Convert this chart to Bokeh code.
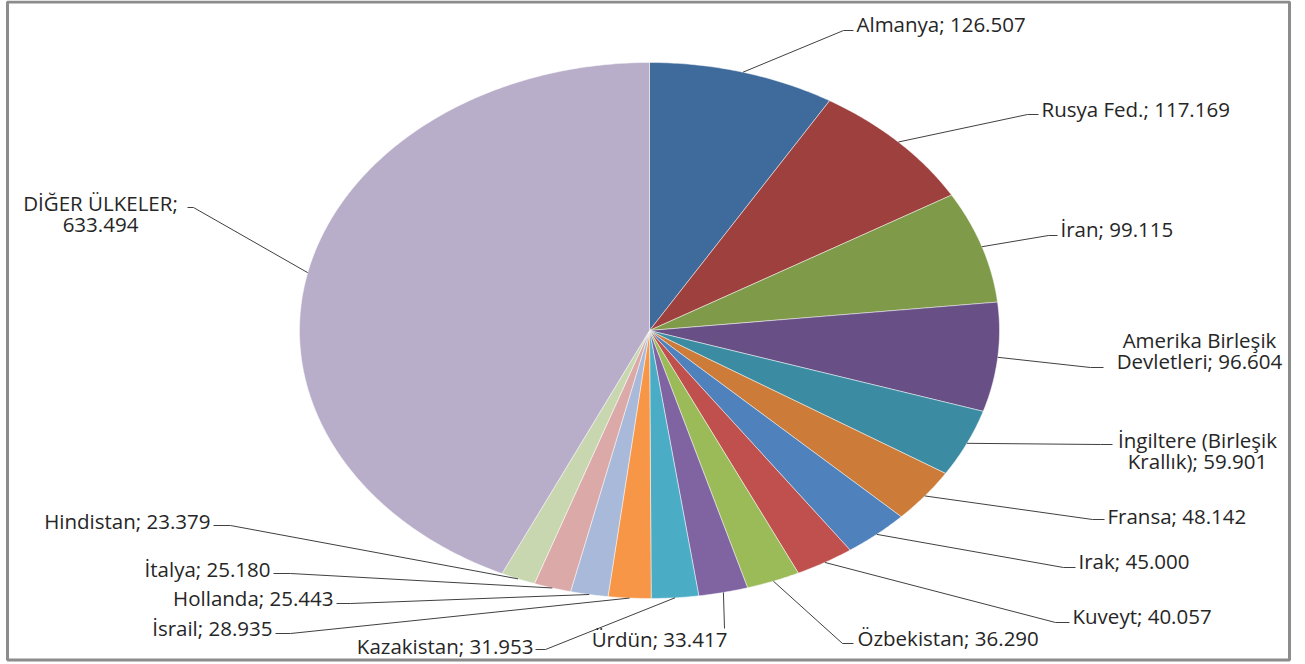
import math
from bokeh.plotting import figure
from bokeh.models import ColumnDataSource, Range1d
from bokeh.core.properties import value
from bokeh.embed import file_html
from bokeh.resources import INLINE

# ---- data ----
countries = ["Almanya", "Rusya Fed.", "İran", "Amerika Birleşik\nDevletleri",
             "İngiltere (Birleşik\nKrallık)", "Fransa", "Irak", "Kuveyt",
             "Özbekistan", "Ürdün", "Kazakistan", "İsrail", "Hollanda",
             "İtalya", "Hindistan", "DİĞER ÜLKELER"]
values = [126507, 117169, 99115, 96604, 59901, 48142, 45000, 40057,
          36290, 33417, 31953, 28935, 25443, 25180, 23379, 633494]
colors = ["#3F6B9C", "#9E413E", "#7F9A48", "#684F85", "#3B8CA3", "#CC7B38",
          "#4F81BD", "#C0504D", "#9BBB59", "#8064A2", "#4BACC6", "#F79646",
          "#A9B9D9", "#DBA9A8", "#C8D7AF", "#B8AEC9"]
separators = ["; "] * 15 + [";\n"]

# ---- layout (pixel space) ----
CX, CY, RX, RY = 649, 330, 350, 268
label_x = [856, 1041, 1060, 1199, 1197, 1107, 1078, 1072, 857, 659, 533, 272, 333, 270, 210, 100]
label_y = [23, 108, 228, 350, 450, 515, 560, 615, 637, 638, 645, 627, 597, 568, 520, 213]
label_align = ["left", "left", "left", "center", "center", "left", "left", "left",
               "left", "center", "right", "right", "right", "right", "right", "center"]
elbow_x = [843, 1027, 1048, 1090, 1100, 1092, 1063, 1055, 842, 724, 545, 290, 350, 290, 230, 193]
elbow_y = [30, 114, 235, 367, 444, 519, 567, 622, 643, 628, 649, 633, 603, 573, 525, 207]
end_x = [853, 1038, 1057, 1103, 1112, 1104, 1075, 1069, 853, 724, 535, 275, 336, 273, 213, 187]

total = float(sum(values))


def fmt(v):
    return f"{v:,}".replace(",", ".")


def pt(theta):
    return CX + RX * math.sin(theta), CY - RY * math.cos(theta)


xs, ys = [], []
mid_x, mid_y = [], []
cum = 0.0
for v in values:
    a0 = 2 * math.pi * cum / total
    a1 = 2 * math.pi * (cum + v) / total
    n = max(4, int((a1 - a0) / 0.01))
    px, py = [CX], [CY]
    for i in range(n + 1):
        x, y = pt(a0 + (a1 - a0) * i / n)
        px.append(x)
        py.append(y)
    xs.append(px)
    ys.append(py)
    mx, my = pt((a0 + a1) / 2)
    mid_x.append(mx)
    mid_y.append(my)
    cum += v

labels = [f"{c}{s}{fmt(v)}" for c, s, v in zip(countries, separators, values)]

p = figure(width=1305, height=664, output_backend="svg", toolbar_location=None,
           x_range=Range1d(0, 1305), y_range=Range1d(664, 0),
           min_border=0, min_border_left=0, min_border_right=0,
           min_border_top=0, min_border_bottom=0)
p.axis.visible = False
p.grid.visible = False
p.outline_line_color = None
p.background_fill_color = "white"
p.border_fill_color = "white"

# frame
p.quad(left=7, right=1289, top=1.5, bottom=659.5, fill_color=None,
       line_color="#8C8C8C", line_width=3)

# slices
p.patches(xs=xs, ys=ys, fill_color=colors, line_color="white",
          line_width=0.8, line_alpha=0.6)

# leader lines
lx = [[mx, ex, nx] for mx, ex, nx in zip(mid_x, elbow_x, end_x)]
ly = [[my, ey, ey] for my, ey in zip(mid_y, elbow_y)]
p.multi_line(xs=lx, ys=ly, line_color="#404040", line_width=1)

src = ColumnDataSource(dict(x=label_x, y=label_y, text=labels, align=label_align))
p.text(x="x", y="y", text="text", source=src, text_align="align",
       text_baseline="middle", text_font=value("Open Sans"), text_font_size="20.5px",
       text_color="#262626", text_line_height=0.78)

open("out.html", "w").write(file_html(p, INLINE))
